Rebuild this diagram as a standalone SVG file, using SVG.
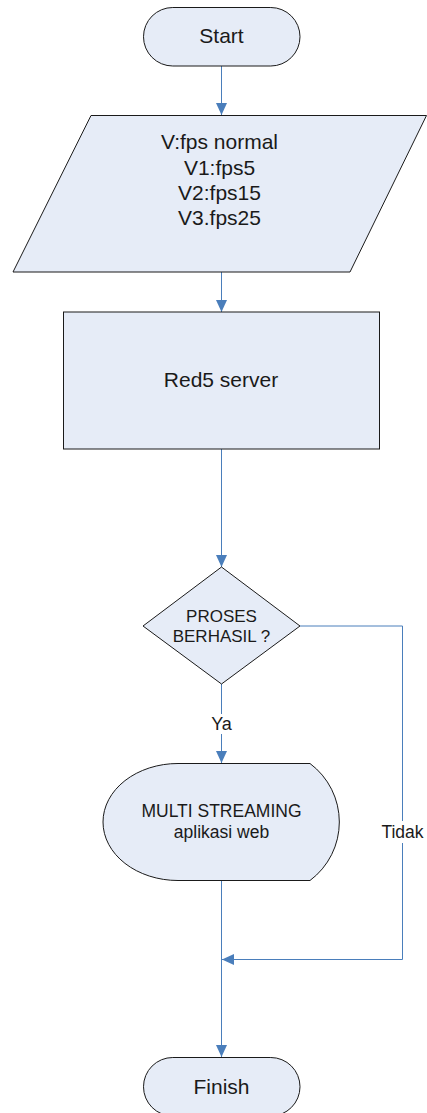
<svg xmlns="http://www.w3.org/2000/svg" width="427" height="1113" viewBox="0 0 427 1113">
<style>
.shape{fill:#E6ECF7;stroke:#1a1a1a;stroke-width:1}
.conn{fill:none;stroke:#4A7EBB;stroke-width:1}
.t{font-family:"Liberation Sans",Arial,sans-serif;fill:#1a1a1a;text-anchor:middle}
.big{font-size:21px}
.mid{font-size:17.5px}
.lbl{fill:#ffffff;stroke:none}
</style>
<defs>
<marker id="arrow" markerUnits="userSpaceOnUse" markerWidth="12" markerHeight="11" refX="12" refY="5.5" orient="auto">
<path d="M0,0 L12,5.5 L0,11 Z" fill="#4A7EBB"/>
</marker>
</defs>
<rect width="427" height="1113" fill="#ffffff"/>
<g id="connectors">
<path class="conn" d="M221.5,66 V115" marker-end="url(#arrow)"/>
<path class="conn" d="M221.5,272 V312" marker-end="url(#arrow)"/>
<path class="conn" d="M221.5,449 V567" marker-end="url(#arrow)"/>
<path class="conn" d="M221.5,684 V763" marker-end="url(#arrow)"/>
<path class="conn" d="M300,626 H402.5 V959.5 H222" marker-end="url(#arrow)"/>
<path class="conn" d="M221.5,881 V1057" marker-end="url(#arrow)"/>
<rect class="lbl" x="209" y="714" width="25" height="20"/>
<text class="t" x="221.5" y="730" font-size="18">Ya</text>
<rect class="lbl" x="381" y="821" width="44" height="22"/>
<text class="t" x="402.5" y="838" font-size="17.5">Tidak</text>
</g>
<g id="start">
<rect class="shape" x="143.5" y="7.5" width="156.5" height="58.5" rx="29.25"/>
<text class="t big" x="221.5" y="43">Start</text>
</g>
<g id="input">
<polygon class="shape" points="91,115.5 426.5,115.5 350,272 13,272"/>
<text class="t big" x="219.5" y="149">V:fps normal</text>
<text class="t big" x="219.5" y="175">V1:fps5</text>
<text class="t big" x="219.5" y="200">V2:fps15</text>
<text class="t big" x="219.5" y="225">V3.fps25</text>
</g>
<g id="server">
<rect class="shape" x="63.5" y="312" width="316" height="137"/>
<text class="t big" x="221" y="387">Red5 server</text>
</g>
<g id="decision">
<polygon class="shape" points="221.5,567 300,626 221.5,684 143,626"/>
<text class="t" x="221.5" y="622" font-size="17">PROSES</text>
<text class="t" x="221.5" y="642" font-size="17">BERHASIL ?</text>
</g>
<g id="display">
<path class="shape" d="M178,763.5 H310 A73,73 0 0 1 310,880.5 H178 A75,58.5 0 0 1 178,763.5 Z"/>
<text class="t mid" x="221.5" y="817">MULTI STREAMING</text>
<text class="t mid" x="221.5" y="838">aplikasi web</text>
</g>
<g id="finish">
<rect class="shape" x="143.5" y="1057.5" width="156.5" height="58.5" rx="29.25"/>
<text class="t big" x="221.5" y="1094">Finish</text>
</g>
</svg>
